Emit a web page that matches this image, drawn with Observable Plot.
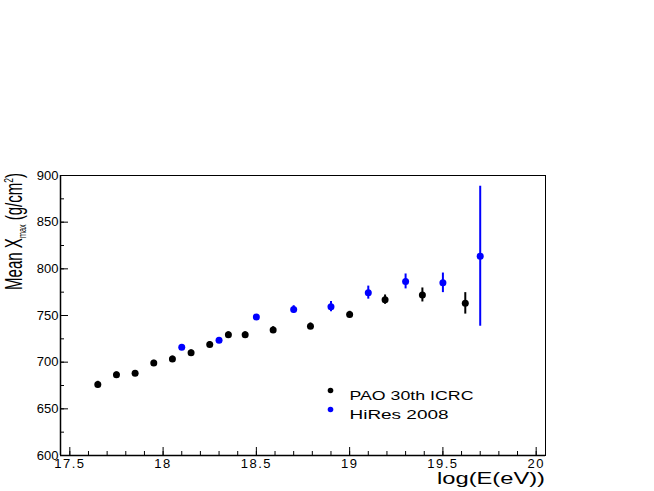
<!DOCTYPE html>
<html>
<head>
<meta charset="utf-8">
<script src="https://cdn.jsdelivr.net/npm/d3@7"></script>
<script src="https://cdn.jsdelivr.net/npm/@observablehq/plot@0.6"></script>
<style>
  html, body { margin: 0; padding: 0; background: #fff; }
  svg { display: block; }
</style>
</head>
<body>
<div id="chart"></div>
<script>
// ---- data ----
const paoE   = [17.65, 17.75, 17.85, 17.95, 18.05, 18.15, 18.25, 18.35, 18.44, 18.59, 18.79, 19.0, 19.19, 19.39, 19.62];
const paoX   = [676, 686.5, 688, 699, 703.5, 710, 719, 729.5, 729.5, 734.5, 738.5, 751, 767, 772, 763];
const paoErr = [3.5, 3, 3, 3, 3, 3, 3, 3, 3, 3.5, 3.5, 3.5, 5, 7.5, 11.5];

const hiresE   = [18.1, 18.3, 18.5, 18.7, 18.9, 19.1, 19.3, 19.5, 19.7];
const hiresX   = [716, 723.5, 748.5, 756.5, 759.5, 774.5, 786.5, 785, 813.5];
const hiresErr = [2, 2, 2.5, 4, 5.5, 7, 8, 10.5, 75];

const seriesNames  = ["PAO 30th ICRC", "HiRes 2008"];
const seriesColors = ["#000000", "#0000ff"];

const xMajor = [17.5, 18, 18.5, 19, 19.5, 20];
const xMinor = d3.range(17.5, 20.01, 0.1).map(v => +v.toFixed(1));
const yMajor = [600, 650, 700, 750, 800, 850, 900];
const yMinor = d3.range(600, 901, 25);

// ---- table ----
const rows = [
  ...paoE.map((e, i) => ({series: seriesNames[0], E: e, X: paoX[i], err: paoErr[i]})),
  ...hiresE.map((e, i) => ({series: seriesNames[1], E: e, X: hiresX[i], err: hiresErr[i]}))
];

const W = 654, H = 491;
const mT = 175, mB = 36, mL = 60, mR = 109;
const plotW = W - mL - mR, plotH = H - mT - mB;

const font = "'Liberation Sans', Arial, Helvetica, sans-serif";

const chart = Plot.plot({
  width: W,
  height: H,
  marginTop: mT,
  marginBottom: mB,
  marginLeft: mL,
  marginRight: mR,
  style: {fontFamily: font, fontSize: "13px", background: "#fff"},
  x: {domain: [17.45, 20.05]},
  y: {domain: [600, 900]},
  color: {domain: seriesNames, range: seriesColors},
  marks: [
    Plot.frame({stroke: "#000", strokeWidth: 1}),
    // minor / major ticks (inside)
    Plot.tickX(xMinor, {x: d => d, insetTop: plotH - 4, stroke: "#000"}),
    Plot.tickX(xMajor, {x: d => d, insetTop: plotH - 8, stroke: "#000"}),
    Plot.tickY(yMinor, {y: d => d, insetRight: plotW - 4, stroke: "#000"}),
    Plot.tickY(yMajor, {y: d => d, insetRight: plotW - 8, stroke: "#000"}),
    Plot.axisX({ticks: xMajor, tickSize: 0, tickPadding: 3, label: null, tickFormat: d => String(d), fontSize: 13, className: "xticks"}),
    Plot.axisY({ticks: yMajor, tickSize: 0, tickPadding: 2, label: null, tickFormat: d => String(d), fontSize: 13}),
    Plot.ruleX([17.45], {stroke: "#000", strokeWidth: 1.5}),
    Plot.ruleY([600], {stroke: "#000", strokeWidth: 1.5}),
    // error bars
    Plot.ruleX(rows, {x: "E", y1: d => d.X - d.err, y2: d => d.X + d.err, stroke: "series", strokeWidth: 2}),
    // points
    Plot.dot(rows, {x: "E", y: "X", fill: "series", r: 3.5, stroke: "none"}),
    // legend
    Plot.dot([seriesNames[0]], {frameAnchor: "top-left", dx: 270, dy: 215, fill: seriesColors[0], r: 2.8}),
    Plot.dot([seriesNames[1]], {frameAnchor: "top-left", dx: 270, dy: 234, fill: seriesColors[1], r: 2.8}),
    Plot.text([seriesNames[0]], {frameAnchor: "top-left", dx: 289, dy: 215, text: d => d, textAnchor: "start", fontSize: 13, fill: "#000", className: "leg0"}),
    Plot.text([seriesNames[1]], {frameAnchor: "top-left", dx: 289, dy: 234, text: d => d, textAnchor: "start", fontSize: 13, fill: "#000", className: "leg1"})
  ]
});

document.getElementById("chart").appendChild(chart);
const svg = d3.select(chart);

// wider, ROOT-like lettering for x tick labels and legend
svg.selectAll(".xticks text").attr("letter-spacing", "1.5px");
svg.selectAll(".leg0 text").attr("textLength", 124).attr("lengthAdjust", "spacingAndGlyphs");
svg.selectAll(".leg1 text").attr("textLength", 99).attr("lengthAdjust", "spacingAndGlyphs");

// x title
svg.append("text")
  .attr("x", W - mR)
  .attr("y", 484)
  .attr("text-anchor", "end")
  .attr("font-family", font)
  .attr("font-size", 16)
  .attr("textLength", 108)
  .attr("lengthAdjust", "spacingAndGlyphs")
  .attr("fill", "#000")
  .text("log(E(eV))");

// y title (condensed, with subscript and superscript)
const yt = svg.append("text")
  .attr("text-anchor", "end")
  .attr("font-family", font)
  .attr("font-size", 23)
  .attr("fill", "#000");
yt.append("tspan").text("Mean X");
yt.append("tspan").attr("font-size", 11).attr("dy", 4).text("max");
yt.append("tspan").attr("dy", -4).text(" (g/cm");
yt.append("tspan").attr("font-size", 13).attr("dy", -9).text("2");
yt.append("tspan").attr("dy", 9).text(")");
const len = yt.node().getComputedTextLength() || 170;
const k = 117 / len;
yt.attr("transform", `translate(22,173) rotate(-90) scale(${k},1)`);
</script>
</body>
</html>
